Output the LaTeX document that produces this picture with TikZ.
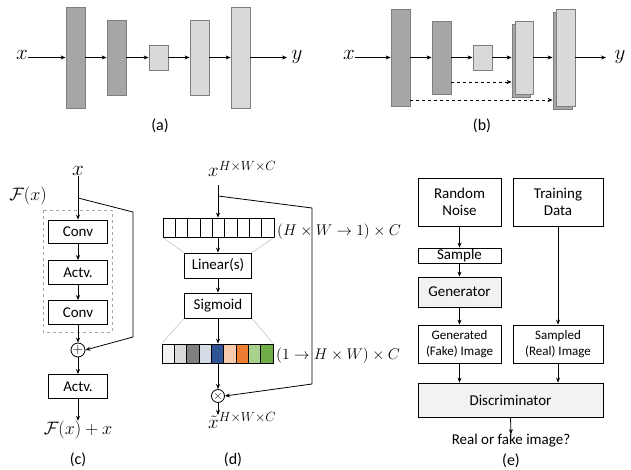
\RequirePackage{fix-cm}
\documentclass[tikz,border=0pt]{standalone}
\usepackage{amsmath}
\usepackage[no-math]{fontspec}
\setmainfont{Carlito}
\usetikzlibrary{arrows.meta}
\definecolor{dkbar}{HTML}{A6A6A6}
\definecolor{ltbar}{HTML}{D9D9D9}
\definecolor{barline}{HTML}{7F7F7F}
\definecolor{boxfill}{HTML}{F2F2F2}
\definecolor{c1}{HTML}{F2F2F2}
\definecolor{c2}{HTML}{D9D9D9}
\definecolor{c3}{HTML}{808080}
\definecolor{c4}{HTML}{D6DCE5}
\definecolor{c5}{HTML}{2F5597}
\definecolor{c6}{HTML}{F8CBAD}
\definecolor{c7}{HTML}{ED7D31}
\definecolor{c8}{HTML}{A9D18E}
\definecolor{c9}{HTML}{70AD47}
\tikzset{
  arr/.style={-{Stealth[length=5pt,width=4pt]}, line width=0.8pt},
  bar/.style={draw=barline, line width=0.8pt, inner sep=0pt, minimum width=19pt},
  darkbar/.style={bar, fill=dkbar},
  lightbar/.style={bar, fill=ltbar},
  blk/.style={draw, line width=0.8pt, inner sep=0pt, font=\fontsize{15}{17}\selectfont, align=center},
  mlabel/.style={inner sep=0pt, font=\fontsize{18}{20}\selectfont},
  biglabel/.style={inner sep=0pt, font=\fontsize{21}{23}\selectfont},
  dimlabel/.style={inner sep=0pt, anchor=west, font=\fontsize{15.5}{18}\selectfont},
  captxt/.style={inner sep=0pt, font=\fontsize{16}{18}\selectfont},
  cell/.style={draw, line width=0.8pt, inner sep=0pt, minimum width=12.33pt, minimum height=19pt},
  guide/.style={draw=gray!60, line width=0.4pt},
  opnode/.style={circle, draw, line width=0.8pt, inner sep=0pt, minimum size=14pt}
}
\begin{document}
\begin{tikzpicture}[x=1pt,y=-1pt]
\useasboundingbox (0,0) rectangle (631,470);
% ---------------- (a)
\node[biglabel] (ax) at (22,55) {$x$};
\node[darkbar, minimum height=101pt] (a1) at (75.5,57.5) {};
\node[darkbar, minimum height=75pt] (a2) at (116.5,57.5) {};
\node[lightbar, minimum height=25pt] (a3) at (158.5,57.5) {};
\node[lightbar, minimum height=75pt] (a4) at (199.5,57.5) {};
\node[lightbar, minimum height=101pt] (a5) at (240.5,57.5) {};
\node[biglabel] (ay) at (297,57) {$y$};
\draw[arr] (ax.east |- a1.west) -- (a1.west);
\draw[arr] (a1.east) -- (a2.west);
\draw[arr] (a2.east) -- (a3.west);
\draw[arr] (a3.east) -- (a4.west);
\draw[arr] (a4.east) -- (a5.west);
\coordinate (aend) at (287,57.5);
\draw[arr] (a5.east) -- (aend);
\node[captxt] (capa) at (160,126) {(a)};
% ---------------- (b)
\node[biglabel] (bx) at (349,55) {$x$};
\node[darkbar, minimum height=97pt] (b1) at (400.5,57.5) {};
\node[darkbar, minimum height=73pt] (b2) at (441.5,57.5) {};
\node[lightbar, minimum height=25pt] (b3) at (482.5,57.5) {};
\node[darkbar, minimum height=73pt, minimum width=18pt] (b4b) at (521,60.5) {};
\node[lightbar, minimum height=73pt, minimum width=18pt] (b4) at (524,57.5) {};
\node[darkbar, minimum height=97pt] (b5b) at (562.5,60.5) {};
\node[lightbar, minimum height=97pt] (b5) at (565.5,57.5) {};
\node[biglabel] (by) at (620,57) {$y$};
\draw[arr] (bx.east |- b1.west) -- (b1.west);
\draw[arr] (b1.east) -- (b2.west);
\draw[arr] (b2.east) -- (b3.west);
\draw[arr] (b3.east) -- (b3.east -| b4b.west);
\draw[arr] (b4.east) -- (b4.east -| b5b.west);
\coordinate (bend) at (606,57.5);
\draw[arr] (b5.east) -- (bend);
\coordinate (bd1) at (451,82);
\coordinate (bd2) at (410,100);
\draw[arr, dashed] (bd1) -- (bd1 -| b4b.west);
\draw[arr, dashed] (bd2) -- (bd2 -| b5b.west);
\node[captxt] (capb) at (482,126) {(b)};
% ---------------- (c)
\node[biglabel] (cx) at (78,171) {$x$};
\node[mlabel] (cF) at (28,196) {$\mathcal{F}(x)$};
\draw[gray!70, dashed, line width=0.8pt] (43,210) rectangle (112,332);
\node[blk, minimum width=59pt, minimum height=23pt] (conv1) at (78,231.5) {Conv};
\node[blk, minimum width=59pt, minimum height=24pt] (actv1) at (78,272.5) {Actv.};
\node[blk, minimum width=59pt, minimum height=24pt] (conv2) at (78,312.5) {Conv};
\node[opnode, font=\fontsize{14}{14}\selectfont] (plus) at (78,350) {$+$};
\node[blk, minimum width=59pt, minimum height=24pt] (actv2) at (78,386.5) {Actv.};
\node[mlabel] (cout) at (78,430) {$\mathcal{F}(x)+x$};
\draw[arr] (cx.south) -- (conv1.north);
\draw[arr] (conv1.south) -- (actv1.north);
\draw[arr] (actv1.south) -- (conv2.north);
\draw[arr] (conv2.south) -- (plus.north);
\draw[arr] (plus.south) -- (actv2.north);
\draw[arr] (actv2.south) -- (cout.north);
\coordinate (cs) at (78,198);
\draw[arr] (cs) -- (133,212) -- (133,337) -- (plus.east);
\node[captxt] (capc) at (78,460) {(c)};
% ---------------- (d)
\node[mlabel, anchor=base west, font=\fontsize{19}{21}\selectfont] (dx) at (208,177) {$x^{H\times W\times C}$};
\foreach \i in {1,...,9} {
  \node[cell] (ca\i) at ({163+12.33*(\i-0.5)},227.5) {};
}
\node[dimlabel] (dl1) at (277,232) {$(H\times W\rightarrow 1)\times C$};
\node[blk, minimum width=67pt, minimum height=25pt] (lin) at (218,265.5) {Linear(s)};
\node[blk, minimum width=67pt, minimum height=25pt] (sig) at (218,305.5) {Sigmoid};
\foreach \i in {1,...,9} {
  \node[cell, fill=c\i] (cb\i) at ({162+12.33*(\i-0.5)},353.5) {};
}
\node[dimlabel] (dl2) at (276,356) {$(1\rightarrow H\times W)\times C$};
\draw[guide] (ca1.south west) -- (lin.north west);
\draw[guide] (ca9.south east) -- (lin.north east);
\draw[guide] (sig.south west) -- (cb1.north west);
\draw[guide] (sig.south east) -- (cb9.north east);
\node[opnode, font=\fontsize{12}{12}\selectfont, minimum size=13pt] (times) at (218,396) {$\times$};
\node[mlabel, anchor=base west, font=\fontsize{19}{21}\selectfont] (dout) at (208,428) {$\tilde{x}^{H\times W\times C}$};
\coordinate (dtop) at (218,185);
\draw[arr] (dtop) -- (ca5.north -| dtop);
\draw[arr] (ca5.south -| dtop) -- (lin.north);
\draw[arr] (lin.south) -- (sig.north);
\draw[arr] (sig.south) -- (cb5.north -| sig.south);
\draw[arr] (cb5.south -| times.north) -- (times.north);
\coordinate (dend) at (218,415);
\draw[arr] (times.south) -- (dend);
\coordinate (ds) at (218,196);
\draw[arr] (ds) -- (312,208) -- (312,384) -- (times.east);
\node[captxt] (capd) at (233,460) {(d)};
% ---------------- (e)
\node[blk, minimum width=83pt, minimum height=48pt] (rn) at (459.5,202) {Random\\Noise};
\node[blk, minimum width=90pt, minimum height=48pt] (td) at (558,202) {Training\\Data};
\node[blk, minimum width=83pt, minimum height=15pt, text height=9pt, text depth=2pt] (smp) at (459.5,255.5) {Sample};
\node[blk, fill=boxfill, minimum width=83pt, minimum height=30pt] (gen) at (459.5,292) {Generator};
\node[blk, minimum width=83pt, minimum height=38pt, font=\fontsize{13}{16}\selectfont] (gimg) at (459.5,344) {Generated\\(Fake) Image};
\node[blk, minimum width=90pt, minimum height=38pt, font=\fontsize{13}{16}\selectfont] (simg) at (558,344) {Sampled\\(Real) Image};
\node[blk, fill=boxfill, minimum width=185pt, minimum height=34pt] (disc) at (510.5,400) {Discriminator};
\node[inner sep=0pt, font=\fontsize{15}{17}\selectfont] (real) at (511,441) {Real or fake image?};
\draw[arr] (rn.south) -- (smp.north);
\draw[arr] (smp.south) -- (gen.north);
\draw[arr] (gen.south) -- (gimg.north);
\draw[arr] (gimg.south) -- (gimg.south |- disc.north);
\draw[arr] (td.south) -- (simg.north);
\draw[arr] (simg.south) -- (simg.south |- disc.north);
\draw[arr] (disc.south) -- (real.north);
\node[captxt] (cape) at (511,461) {(e)};
\end{tikzpicture}
\end{document}
